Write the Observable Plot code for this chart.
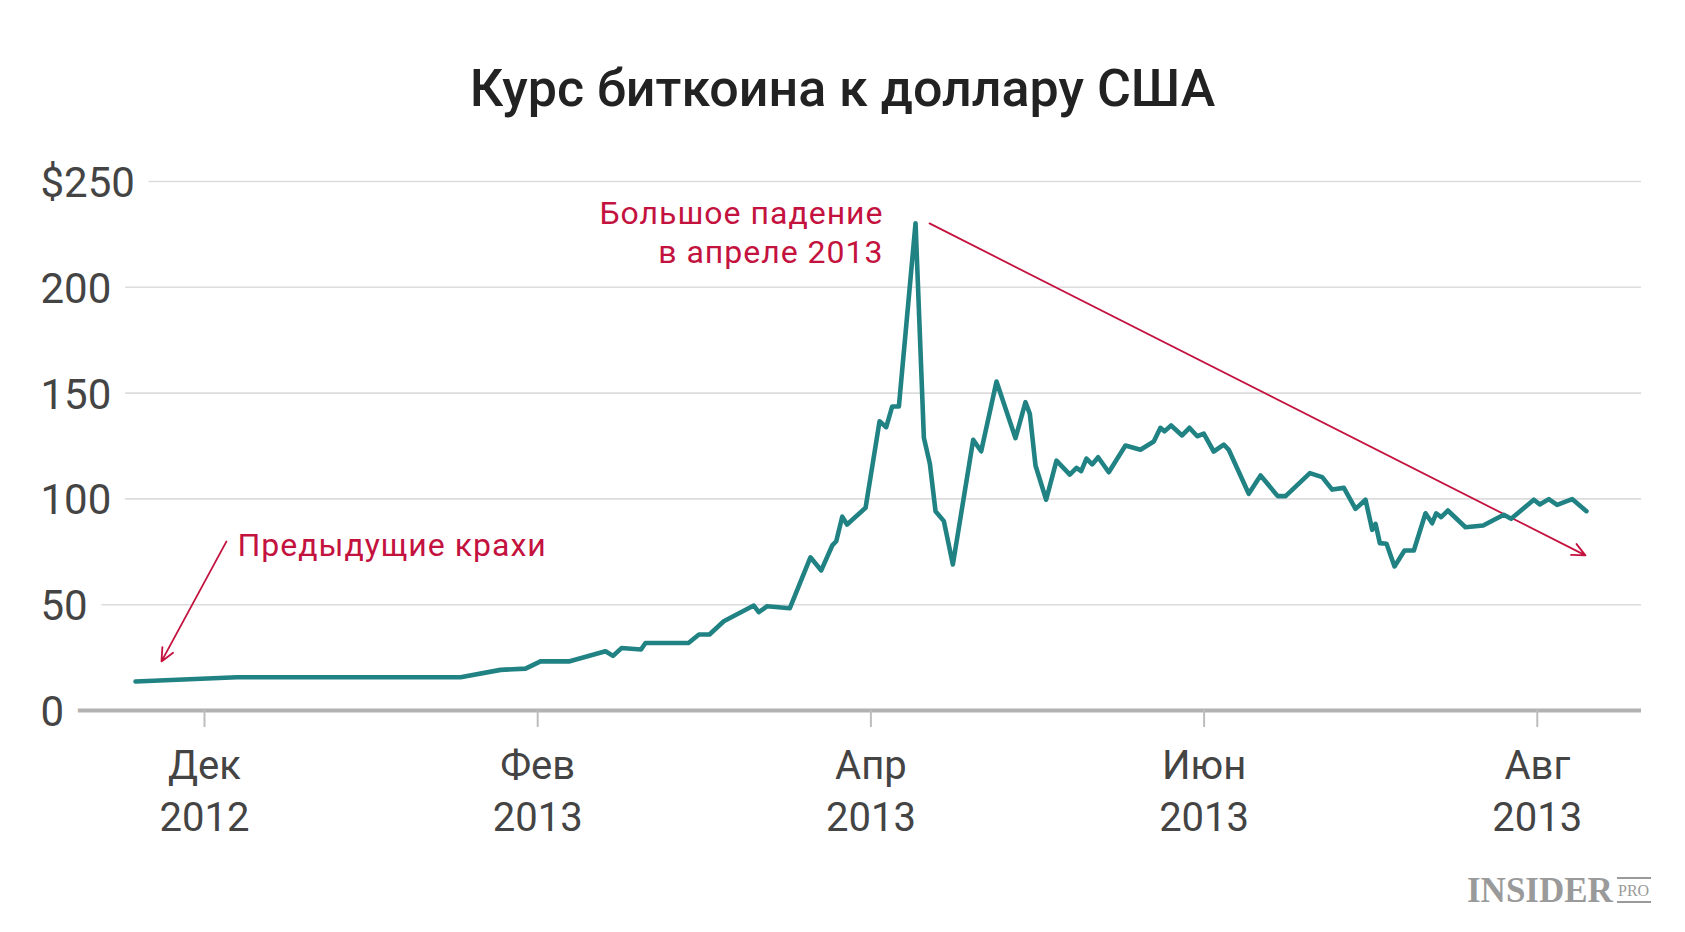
<!DOCTYPE html>
<html>
<head>
<meta charset="utf-8">
<script src="https://cdn.jsdelivr.net/npm/d3@7"></script>
<script src="https://cdn.jsdelivr.net/npm/@observablehq/plot@0.6"></script>
<style>
  html, body { margin: 0; padding: 0; background: #fff; }
  #page { position: relative; width: 1685px; height: 932px; overflow: hidden; font-family: Roboto, sans-serif; }
  #title { height: 140px; box-sizing: border-box; padding-top: 63px; margin: 0; text-align: center;
           font: 500 52px/52px Roboto, sans-serif; color: #222; white-space: nowrap; }
  #chart svg { display: block; }
  #logo { position: absolute; left: 0; top: 0; pointer-events: none; }
</style>
</head>
<body>
<div id="page">
  <div id="title">Курс биткоина к доллару США</div>
  <div id="chart"></div>
  <svg id="logo" width="1685" height="932">
    <text x="1467" y="902" font-family="Liberation Serif, serif" font-weight="bold" font-size="35" fill="#9a9a9a">INSIDER</text>
    <line x1="1617" x2="1651" y1="878" y2="878" stroke="#9a9a9a" stroke-width="2"/>
    <line x1="1617" x2="1651" y1="902" y2="902" stroke="#9a9a9a" stroke-width="2"/>
    <text x="1618" y="896" font-family="Liberation Serif, serif" font-size="16" fill="#9a9a9a">PRO</text>
  </svg>
</div>
<script>
// x = months since 1 Dec 2012 (fractional), y = price in USD
const months = [-0.414, 0.196, 1.537, 1.777, 1.927, 2.017, 2.187, 2.407, 2.452, 2.503, 2.620, 2.647, 2.905, 2.968, 3.031,
  3.117, 3.297, 3.327, 3.378, 3.513, 3.637, 3.702, 3.768, 3.792, 3.828, 3.857, 3.968, 4.052, 4.092, 4.128, 4.168,
  4.268, 4.318, 4.354, 4.388, 4.438, 4.492, 4.614, 4.662, 4.754, 4.868, 4.928, 4.954, 4.988, 5.052, 5.114, 5.194,
  5.234, 5.262, 5.294, 5.328, 5.364, 5.428, 5.528, 5.618, 5.698, 5.738, 5.762, 5.802, 5.868, 5.912, 5.959, 5.998,
  6.058, 6.118, 6.148, 6.268, 6.339, 6.442, 6.489, 6.635, 6.709, 6.769, 6.839, 6.909, 6.969, 7.009, 7.029, 7.055,
  7.095, 7.143, 7.203, 7.259, 7.329, 7.369, 7.393, 7.423, 7.463, 7.569, 7.675, 7.799, 7.843, 7.979, 8.015, 8.069,
  8.119, 8.209, 8.295];
const prices = [13.7, 15.7, 15.7, 19.2, 19.8, 23.2, 23.2, 28.0, 25.8, 29.5, 28.8, 31.9, 31.9, 35.9, 35.9,
  42.2, 49.6, 46.5, 49.3, 48.3, 72.4, 66.2, 78.0, 80.0, 91.6, 87.9, 95.8, 136.7, 133.9, 143.7, 143.7,
  230.3, 128.9, 116.6, 94.2, 89.5, 69.0, 127.9, 122.5, 155.5, 128.7, 145.7, 140.2, 115.8, 99.6, 118.1, 111.5,
  114.7, 113.1, 119.0, 116.3, 119.7, 112.6, 125.2, 123.2, 127.1, 133.6, 131.9, 134.7, 130.0, 133.6, 129.6, 130.8,
  122.4, 125.7, 123.2, 102.4, 111.1, 101.3, 101.3, 112.2, 110.3, 104.4, 105.2, 95.3, 99.6, 85.4, 88.2, 79.1,
  78.8, 68.1, 75.6, 75.6, 93.2, 88.5, 93.2, 91.4, 94.5, 86.6, 87.4, 92.5, 90.6, 99.6, 97.4, 99.9,
  97.2, 99.9, 94.2];

const xTicks = [0, 2, 4, 6, 8];
const xMonthLabels = ["Дек", "Фев", "Апр", "Июн", "Авг"];
const xYearLabels = ["2012", "2013", "2013", "2013", "2013"];
const yTicks = [0, 50, 100, 150, 200, 250];
const yTickLabels = ["0", "50", "100", "150", "200", "$250"];

const annotationTexts = ["Предыдущие крахи", "Большое падение\nв апреле 2013"];

const data = months.map((m, i) => ({month: m, price: prices[i]}));

const red = "#c4123f";
const teal = "#218284";

const chart = Plot.plot({
  width: 1685,
  height: 792,
  marginTop: 41,
  marginBottom: 222,
  marginLeft: 75,
  marginRight: 44,
  style: {fontFamily: "Roboto, sans-serif", background: "transparent"},
  x: {type: "linear", domain: [-0.7743, 8.6255], axis: null},
  y: {domain: [0, 250], axis: null},
  marks: [
    Plot.ruleY(yTicks.filter(d => d > 0), {stroke: "#dcdcdc", strokeWidth: 1.6}),
    Plot.ruleY([0], {stroke: "#b2b2b2", strokeWidth: 4}),
    Plot.axisX({
      ticks: xTicks,
      tickSize: 17,
      tickPadding: 15,
      tickFormat: d => { const i = xTicks.indexOf(d); return xMonthLabels[i] + "\n" + xYearLabels[i]; },
      fontSize: 40,
      lineHeight: 1.29,
      stroke: "#bdbdbd",
      strokeWidth: 2,
      fill: "#444",
      label: null
    }),
    Plot.text(yTicks, {
      y: d => d,
      text: (d, i) => yTickLabels[i],
      frameAnchor: "left",
      dx: -35,
      dy: 2,
      textAnchor: "start",
      fontSize: 42,
      fill: "#444",
      stroke: "white",
      strokeWidth: 32,
      strokeLinejoin: "round"
    }),
    Plot.arrow([0], {
      x1: () => 0.132, y1: () => 79.9, x2: () => -0.258, y2: () => 23.2,
      stroke: red, strokeWidth: 1.8, headLength: 12, headAngle: 50
    }),
    Plot.arrow([0], {
      x1: () => 4.352, y1: () => 230.2, x2: () => 8.289, y2: () => 73.3,
      stroke: red, strokeWidth: 1.8, headLength: 12, headAngle: 50
    }),
    Plot.line(data, {x: "month", y: "price", stroke: teal, strokeWidth: 4.6, strokeLinejoin: "round", strokeLinecap: "round"}),
    Plot.text([annotationTexts[0]], {
      x: () => 0.198, y: () => 72.8, text: d => d,
      textAnchor: "start", lineAnchor: "bottom", fontSize: 32, fill: red
    }),
    Plot.text([annotationTexts[1]], {
      x: () => 4.076, y: () => 211.7, text: d => d,
      textAnchor: "end", lineAnchor: "bottom", fontSize: 32, lineHeight: 1.22, fill: red
    })
  ]
});
chart.querySelectorAll('g[fill="' + red + '"] text').forEach(t => { t.style.letterSpacing = "1px"; });
document.getElementById("chart").appendChild(chart);
</script>
</body>
</html>
